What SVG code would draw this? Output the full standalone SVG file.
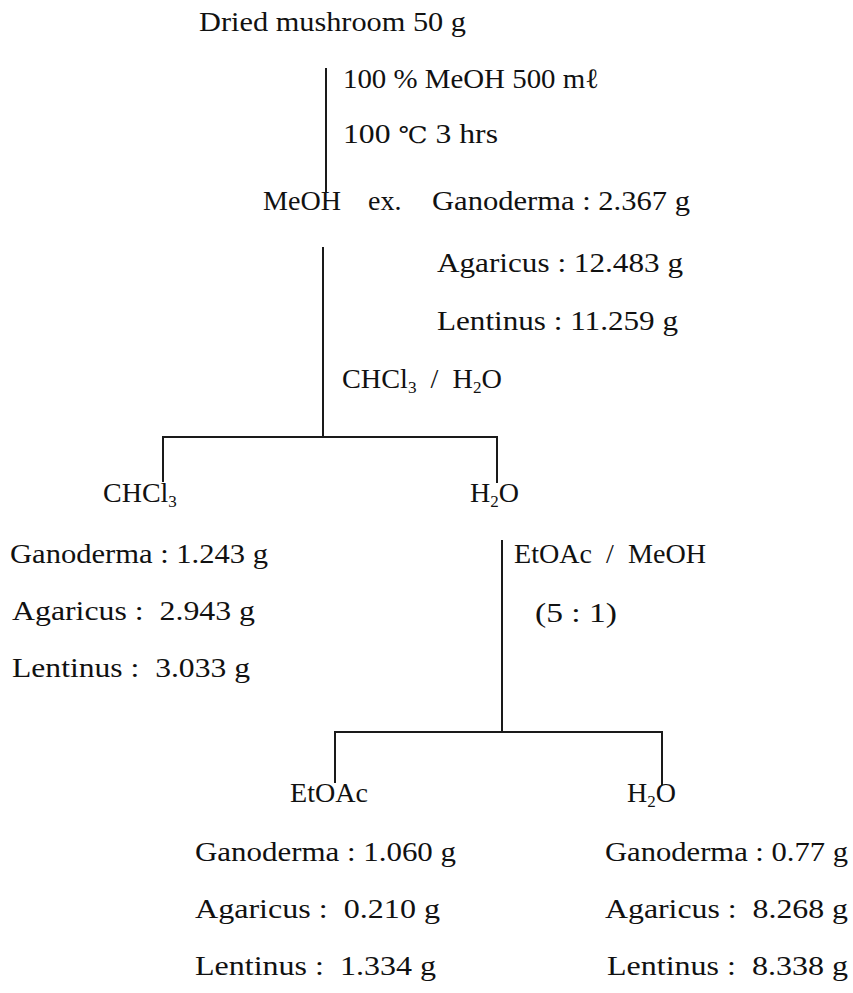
<svg xmlns="http://www.w3.org/2000/svg" width="853" height="993" viewBox="0 0 853 993">
<style>
text{font-family:"Liberation Serif","DejaVu Serif","Noto Sans CJK KR",serif;font-size:28px;fill:#111;white-space:pre}
.sub{font-size:17px}
.deg{font-size:23px}
.ln{stroke:#1a1a1a;stroke-width:2;fill:none}
</style>
<rect width="853" height="993" fill="#fff"/>
<g id="connectors">
<path class="ln" d="M326,68 V192"/>
<path class="ln" d="M323,247 V437 M163,482 V437 H497 V483"/>
<path class="ln" d="M502,540 V732 M335,783 V732 H662 V785"/>
</g>
<g id="n-start"><text x="199" y="31" textLength="267" lengthAdjust="spacingAndGlyphs">Dried mushroom 50 g</text></g>
<g id="e-extract">
<text x="343" y="88" textLength="256" lengthAdjust="spacingAndGlyphs">100 % MeOH 500 mℓ</text>
<text x="343" y="143" textLength="155" lengthAdjust="spacingAndGlyphs">100 <tspan class="deg">℃</tspan> 3 hrs</text>
</g>
<g id="n-meoh">
<text x="263" y="210" textLength="78" lengthAdjust="spacingAndGlyphs">MeOH</text>
<text x="368" y="210">ex.</text>
<text x="432" y="210" textLength="258" lengthAdjust="spacingAndGlyphs">Ganoderma : 2.367 g</text>
<text x="437" y="272" textLength="246" lengthAdjust="spacingAndGlyphs">Agaricus : 12.483 g</text>
<text x="437" y="330" textLength="241" lengthAdjust="spacingAndGlyphs">Lentinus : 11.259 g</text>
</g>
<g id="e-partition1"><text x="342" y="388" textLength="160" lengthAdjust="spacingAndGlyphs">CHCl<tspan class="sub" dy="5">3</tspan><tspan dy="-5">  /  H</tspan><tspan class="sub" dy="5">2</tspan><tspan dy="-5">O</tspan></text></g>
<g id="n-chcl3">
<text x="103" y="502">CHCl<tspan class="sub" dy="5">3</tspan></text>
<text x="10" y="563" textLength="258" lengthAdjust="spacingAndGlyphs">Ganoderma : 1.243 g</text>
<text x="12" y="620" textLength="243" lengthAdjust="spacingAndGlyphs">Agaricus :  2.943 g</text>
<text x="12" y="677" textLength="238" lengthAdjust="spacingAndGlyphs">Lentinus :  3.033 g</text>
</g>
<g id="n-h2o-1"><text x="470" y="502">H<tspan class="sub" dy="5">2</tspan><tspan dy="-5">O</tspan></text></g>
<g id="e-partition2">
<text x="514" y="563" textLength="192" lengthAdjust="spacingAndGlyphs">EtOAc  /  MeOH</text>
<text x="535" y="622" textLength="82" lengthAdjust="spacingAndGlyphs">(5 : 1)</text>
</g>
<g id="n-etoac">
<text x="290" y="802" textLength="78" lengthAdjust="spacingAndGlyphs">EtOAc</text>
<text x="195" y="861" textLength="261" lengthAdjust="spacingAndGlyphs">Ganoderma : 1.060 g</text>
<text x="195" y="918" textLength="245" lengthAdjust="spacingAndGlyphs">Agaricus :  0.210 g</text>
<text x="195" y="975" textLength="241" lengthAdjust="spacingAndGlyphs">Lentinus :  1.334 g</text>
</g>
<g id="n-h2o-2">
<text x="627" y="802">H<tspan class="sub" dy="5">2</tspan><tspan dy="-5">O</tspan></text>
<text x="605" y="861" textLength="243" lengthAdjust="spacingAndGlyphs">Ganoderma : 0.77 g</text>
<text x="605" y="918" textLength="243" lengthAdjust="spacingAndGlyphs">Agaricus :  8.268 g</text>
<text x="607" y="975" textLength="241" lengthAdjust="spacingAndGlyphs">Lentinus :  8.338 g</text>
</g>
</svg>
